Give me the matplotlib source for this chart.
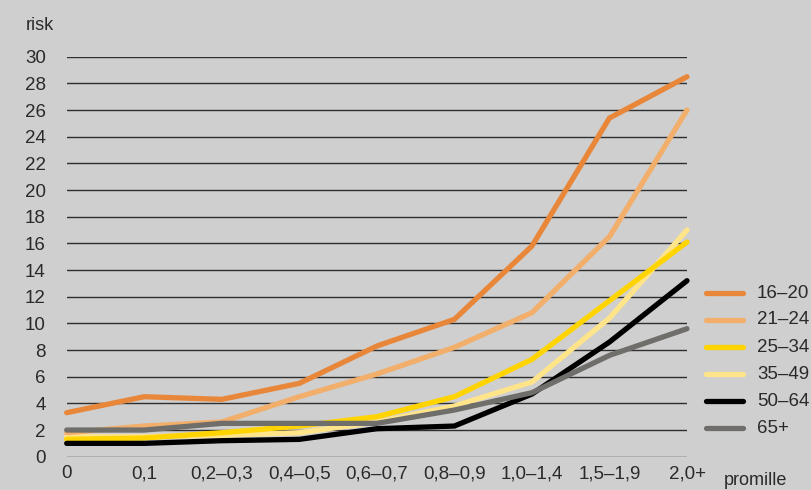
import matplotlib
matplotlib.use("Agg")
import matplotlib.pyplot as plt
from matplotlib.lines import Line2D

categories = ["0", "0,1", "0,2–0,3", "0,4–0,5", "0,6–0,7", "0,8–0,9", "1,0–1,4", "1,5–1,9", "2,0+"]
series_names = ["16–20", "21–24", "25–34", "35–49", "50–64", "65+"]
s_16_20 = [3.3, 4.5, 4.3, 5.5, 8.3, 10.3, 15.8, 25.4, 28.5]
s_21_24 = [1.8, 2.3, 2.6, 4.5, 6.2, 8.2, 10.8, 16.5, 26.0]
s_25_34 = [1.3, 1.4, 1.8, 2.3, 3.0, 4.5, 7.3, 11.7, 16.1]
s_35_49 = [1.5, 1.5, 1.6, 1.8, 2.6, 3.8, 5.6, 10.4, 17.0]
s_50_64 = [1.0, 1.0, 1.2, 1.3, 2.1, 2.3, 4.7, 8.6, 13.2]
s_65p = [2.0, 2.0, 2.5, 2.5, 2.5, 3.5, 4.8, 7.6, 9.6]
yticks = list(range(0, 31, 2))

colors = ["#E8873A", "#F2AE6B", "#FFD400", "#FFE48A", "#000000", "#6F6E6A"]
zorders = [7, 5, 4, 3, 5.5, 6]
values = [s_16_20, s_21_24, s_25_34, s_35_49, s_50_64, s_65p]

plt.rcParams['font.family'] = ['Liberation Sans', 'DejaVu Sans']
W, H = 811, 490
fig = plt.figure(figsize=(W / 100, H / 100), dpi=100)
bg = "#CFCFCF"
fig.patch.set_facecolor(bg)
ax = fig.add_axes([66.7 / W, 1 - 456.7 / H, (687 - 66.7) / W, (456.7 - 56.7) / H])
ax.set_facecolor(bg)
ax.set_xlim(0, len(categories) - 1)
ax.set_ylim(0, 30)
for s in ax.spines.values():
    s.set_visible(False)

for y in yticks:
    ax.axhline(y, color="#2E2E2E", lw=1.0, zorder=1)

x = list(range(len(categories)))
for name, vals, c, z in zip(series_names, values, colors, zorders):
    ax.plot(x, vals, color=c, lw=3.8, solid_capstyle="round", solid_joinstyle="miter",
            zorder=z, clip_on=False)

ax.set_yticks(yticks)
ax.set_yticklabels([str(v) for v in yticks])
ax.set_xticks(x)
ax.set_xticklabels(categories)
ax.tick_params(axis="both", length=0, labelsize=13.5, labelcolor="#2A2A2A")
ax.tick_params(axis="y", pad=15)
ax.tick_params(axis="x", pad=6)

fig.text(26 / W, 1 - 26 / H, "risk", fontsize=13, color="#2A2A2A", va="center", ha="left")
fig.text(724 / W, 1 - 480 / H, "promille", fontsize=13, color="#2A2A2A", va="center", ha="left")

# legend
for i, (name, c) in enumerate(zip(series_names, colors)):
    yy = 1 - (293 + 27 * i) / H
    fig.add_artist(Line2D([706 / W, 743 / W], [yy, yy], color=c, lw=3.8,
                          solid_capstyle="round", transform=fig.transFigure))
    fig.text(757 / W, yy, name, fontsize=13.5, color="#2A2A2A", va="center", ha="left")

fig.savefig("out.png", dpi=100, facecolor=bg)
